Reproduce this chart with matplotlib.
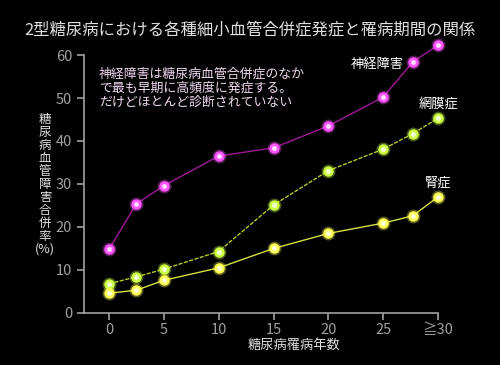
import numpy as np
import matplotlib.pyplot as plt

plt.rcParams['font.family'] = ['Noto Sans CJK JP', 'DejaVu Sans']

# years of diabetes
years = [0, 2.5, 5, 10, 15, 20, 25, 27.7, 30]
# complication rate (%)
neuro = [14.8, 25.4, 29.6, 36.5, 38.4, 43.5, 50.2, 58.4, 62.3]
retino = [6.8, 8.4, 10.2, 14.3, 25.1, 33.1, 38.1, 41.7, 45.3]
nephro = [4.6, 5.3, 7.6, 10.5, 15.0, 18.5, 20.9, 22.6, 27.0]
xticks = [0, 5, 10, 15, 20, 25, 30]
xlabels = ['0', '5', '10', '15', '20', '25', '≧30']
yticks = [0, 10, 20, 30, 40, 50, 60]

fig = plt.figure(figsize=(5, 3.65), dpi=100, facecolor='black')
ax = fig.add_axes([0.168, 0.1425, 0.708, 0.7068], facecolor='black')

gray = '#a0a0a0'

def series(y, lc, mc, ls):
    ax.plot(years, y, color=lc, lw=1.0, ls=ls, zorder=2, clip_on=False)
    ax.plot(years, y, 'o', ms=10, color=mc, alpha=0.35, mew=0, zorder=3, clip_on=False)
    ax.plot(years, y, 'o', ms=7.5, color=mc, mew=0, zorder=4, clip_on=False)
    ax.plot(years, y, 'o', ms=3.5, color='#ffffff', alpha=0.8, mew=0, zorder=5, clip_on=False)

series(neuro, '#a0189a', '#ff55ff', '-')
series(retino, '#b8c828', '#ccff44', (0, (3, 1)))
series(nephro, '#d8e040', '#ffff55', '-')

ax.set_xlim(-2.28, 30)
ax.set_ylim(0, 60)
ax.set_xticks(xticks)
ax.set_xticklabels(xlabels)
ax.set_yticks(yticks)
for s in ['top', 'right']:
    ax.spines[s].set_visible(False)
for s in ['left', 'bottom']:
    ax.spines[s].set_color(gray)
    ax.spines[s].set_linewidth(1.2)
ax.tick_params(colors=gray, labelsize=10.5, length=5, width=1.2)
ax.tick_params(axis='x', pad=2)
for lab in ax.get_xticklabels() + ax.get_yticklabels():
    lab.set_family(['Liberation Sans Narrow', 'Noto Sans CJK JP', 'DejaVu Sans'])

fig.text(0.5, 0.918, '2型糖尿病における各種細小血管合併症発症と罹病期間の関係',
         color='#e0e0e0', fontsize=11.8, ha='center', va='center')
fig.text(0.587, 0.055, '糖尿病罹病年数', color='#e0e0e0', fontsize=9.5,
         ha='center', va='center')
fig.text(0.09, 0.495, '\n'.join('糖尿病血管障害合併率') + '\n(%)', color='#e0e0e0',
         fontsize=9, ha='center', va='center', linespacing=1.0)

ax.text(-0.9, 57.1, '神経障害は糖尿病血管合併症のなか\nで最も早期に高頻度に発症する。\nだけどほとんど診断されていない',
        color='#f0d8f0', fontsize=9.3, va='top', ha='left', linespacing=1.12)
ax.text(26.9, 57.9, '神経障害', color='white', fontsize=9.5, ha='right', va='center')
ax.text(30, 48.4, '網膜症', color='white', fontsize=9.5, ha='center', va='center')
ax.text(30, 30.3, '腎症', color='white', fontsize=9.5, ha='center', va='center')

fig.savefig('out.png', dpi=100, facecolor='black')
